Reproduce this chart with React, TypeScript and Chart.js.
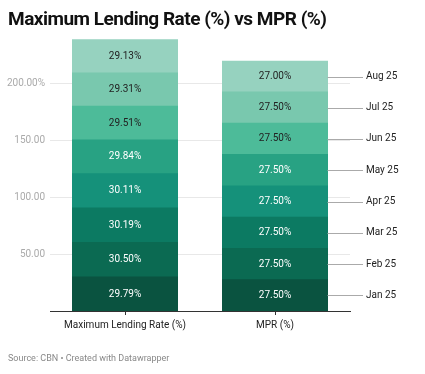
import React, { useEffect, useRef } from "react";
import { Chart, registerables } from "chart.js";
Chart.register(...registerables);

const categories = ["Maximum Lending Rate (%)", "MPR (%)"];
const months = ["Jan 25", "Feb 25", "Mar 25", "Apr 25", "May 25", "Jun 25", "Jul 25", "Aug 25"];
const lendingRate = [29.79, 30.5, 30.19, 30.11, 29.84, 29.51, 29.31, 29.13];
const mpr = [27.5, 27.5, 27.5, 27.5, 27.5, 27.5, 27.5, 27.0];
const colors = ["#0a5340", "#0b6a52", "#0c7a62", "#15917a", "#28a283", "#4dbb99", "#79c8ae", "#96d2bf"];
const textColors = ["#ffffff", "#ffffff", "#ffffff", "#ffffff", "#ffffff", "#222222", "#222222", "#222222"];
const yTicks = [50, 100, 150, 200];
const title = "Maximum Lending Rate (%) vs MPR (%)";
const source = "Source: CBN \u2022 Created with Datawrapper";

const FONT = "Roboto, 'Noto Sans', sans-serif";

const overlay = {
  id: "overlay",
  afterDatasetsDraw(chart: any) {
    const ctx = chart.ctx;
    ctx.save();
    chart.data.datasets.forEach((ds: any, i: number) => {
      const meta = chart.getDatasetMeta(i);
      meta.data.forEach((bar: any, j: number) => {
        const cy = (bar.y + bar.base) / 2;
        ctx.font = `10px ${FONT}`;
        ctx.fillStyle = textColors[i];
        ctx.textAlign = "center";
        ctx.textBaseline = "middle";
        ctx.fillText(`${ds.data[j].toFixed(2)}%`, bar.x, cy);
        if (j === 1) {
          const right = bar.x + bar.width / 2;
          ctx.strokeStyle = "#aaaaaa";
          ctx.lineWidth = 1;
          ctx.beginPath();
          ctx.moveTo(right, Math.round(cy) + 0.5);
          ctx.lineTo(363, Math.round(cy) + 0.5);
          ctx.stroke();
          ctx.fillStyle = "#222222";
          ctx.textAlign = "left";
          ctx.font = `10px ${FONT}`;
          ctx.fillText(months[i], 366, cy);
        }
      });
    });
    ctx.restore();
  },
  afterDraw(chart: any) {
    const ctx = chart.ctx;
    ctx.save();
    ctx.font = `bold 19px ${FONT}`;
    (ctx as any).letterSpacing = "-0.5px";
    ctx.fillStyle = "#111111";
    ctx.textAlign = "left";
    ctx.textBaseline = "middle";
    ctx.fillText(title, 8, 20);
    (ctx as any).letterSpacing = "0px";
    ctx.font = `9px ${FONT}`;
    ctx.fillStyle = "#888888";
    ctx.fillText(source, 8, 359);
    ctx.restore();
  },
};

export default function App() {
  const ref = useRef<HTMLCanvasElement>(null);
  useEffect(() => {
    const chart = new Chart(ref.current!, {
      type: "bar",
      data: {
        labels: categories,
        datasets: months.map((m, i) => ({
          label: m,
          data: [lendingRate[i], mpr[i]],
          backgroundColor: colors[i],
          borderWidth: 0,
          inflateAmount: 0.5,
          barPercentage: 0.7,
          categoryPercentage: 1,
        })),
      },
      options: {
        animation: false,
        responsive: false,
        devicePixelRatio: 1,
        layout: { padding: { top: 38, right: 75, left: 0, bottom: 0 } },
        plugins: { legend: { display: false }, title: { display: false }, tooltip: { enabled: false } },
        scales: {
          x: {
            stacked: true,
            afterFit: (s: any) => { s.height = 63; },
            grid: { display: true, drawOnChartArea: false, drawTicks: true, tickLength: 4, color: "#333333", offset: false },
            border: { display: true, color: "#333333", width: 1 },
            ticks: { color: "#222222", font: { family: FONT, size: 10 }, padding: 4 },
          },
          y: {
            stacked: true,
            min: 0,
            max: 240,
            afterFit: (s: any) => { s.width = 50; },
            afterBuildTicks: (s: any) => { s.ticks = yTicks.map((v) => ({ value: v })); },
            grid: { color: "#e8e8e8", drawTicks: false },
            border: { display: false },
            ticks: {
              color: "#aaaaaa",
              font: { family: FONT, size: 10 },
              padding: 5,
              callback: (v: any) => (v === 200 ? "200.00%" : Number(v).toFixed(2)),
            },
          },
        },
      },
      plugins: [overlay],
    });
    return () => chart.destroy();
  }, []);
  return (
    <div style={{ position: "absolute", left: 0, top: 0, width: 425, height: 374, background: "#fff" }}>
      <canvas ref={ref} width={425} height={374} style={{ width: 425, height: 374 }} />
    </div>
  );
}
